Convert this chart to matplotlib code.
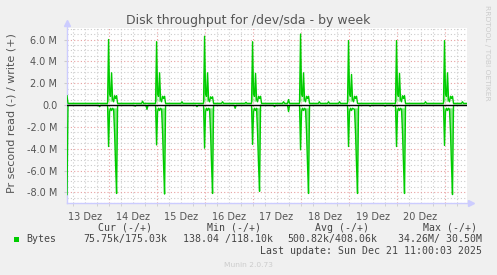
import numpy as np
import matplotlib
matplotlib.use('Agg')
import matplotlib.pyplot as plt
from matplotlib.patches import Rectangle

# hours counted from 13 Dez 00:00, values in MB/s
spike_hours = [24, 48, 72, 96, 120, 144, 168, 192]
write_peak = [6.0, 5.8, 6.3, 5.8, 6.5, 5.9, 5.9, 5.9]
write_second = [2.95, 2.95, 2.95, 2.9, 2.95, 2.8, 2.9, 2.95]
write_bump = [0.85, 0.8, 0.75, 0.8, 0.8, 0.8, 0.85, 0.8]
read_spike = [-3.8, -3.65, -3.95, -3.6, -4.1, -3.8, -3.8, -3.7]
read_dip = [-8.1, -8.15, -8.1, -7.9, -8.1, -8.1, -8.1, -8.2]
dip_offset = [4.0, 4.0, 4.0, 3.5, 4.0, 4.5, 4.0, 4.0]

write_blip_hours = [41, 60.7, 81, 92.7, 111.5, 114, 129.4, 134, 139.5, 182.5, 201]
write_blip_vals = [0.35, 0.3, 0.3, 0.25, 0.3, 0.5, 0.3, 0.3, 0.3, 0.3, 0.3]
read_blip_hours = [19.5, 37.3, 43.2, 68.2, 87.3, 107, 114, 154.8, 162.3, 166.5]
read_blip_vals = [-0.15, -0.1, -0.4, -0.15, -0.3, -0.15, -0.6, -0.1, -0.1, -0.1]

write_base = 0.15
read_base = -0.03
start_hour, end_hour = 3.2, 203.0
start_write, start_read = 0.85, -8.2

day_labels = ['13 Dez', '14 Dez', '15 Dez', '16 Dez', '17 Dez', '18 Dez', '19 Dez', '20 Dez']
label_hours = [12, 36, 60, 84, 108, 132, 156, 180]

legend_header = ['Cur (-/+)', 'Min (-/+)', 'Avg (-/+)', 'Max (-/+)']
legend_values = ['75.75k/175.03k', '138.04 /118.10k', '500.82k/408.06k', '34.26M/ 30.50M']
last_update = 'Last update: Sun Dec 21 11:00:03 2025'

GREEN = '#00cc00'
LIGHT = '#86e886'


def build(base, start_val, shapes, blip_h, blip_v):
    pts = [(start_hour, start_val), (start_hour + 0.5, base)]
    for shape in shapes:
        pts += shape
    for h, v in zip(blip_h, blip_v):
        pts += [(h - 0.5, base), (h, v), (h + 0.5, base)]
    pts.append((end_hour, base))
    pts.sort()
    t = np.array([p[0] for p in pts])
    v = np.array([p[1] for p in pts]) * 1e6
    return t, v


write_shapes = []
read_shapes = []
for d, pk, sc, bp, rs, rd, off in zip(spike_hours, write_peak, write_second, write_bump,
                                      read_spike, read_dip, dip_offset):
    write_shapes.append([(d - 0.5, write_base), (d, pk), (d + 0.5, 1.0), (d + 1.0, 0.8),
                         (d + 1.5, sc), (d + 2.0, 0.5), (d + 2.5, 0.3), (d + 3.0, bp),
                         (d + 3.5, 0.6), (d + 4.0, bp), (d + 4.5, write_base)])
    read_shapes.append([(d - 0.5, read_base), (d, rs), (d + 0.5, -0.6), (d + 1.0, -0.3),
                        (d + 1.5, -0.5), (d + 2.0, -0.3), (d + off - 1.5, -0.4),
                        (d + off - 1.0, -2.5), (d + off - 0.5, -5.5), (d + off, rd),
                        (d + off + 0.5, read_base)])

tw, vw = build(write_base, start_write, write_shapes, write_blip_hours, write_blip_vals)
tr, vr = build(read_base, start_read, read_shapes, read_blip_hours, read_blip_vals)

W, H = 497, 275
L, R, T, B = 67, 466.5, 27.5, 203.3
fig = plt.figure(figsize=(W / 100, H / 100), dpi=100, facecolor='#f0f0f0')
ax = fig.add_axes([L / W, 1 - B / H, (R - L) / W, (B - T) / H])
ax.set_facecolor('white')
ax.set_xlim(start_hour, end_hour)
ax.set_ylim(-9.0e6, 7.1e6)

# grid
dot = (0, (1, 2))
for h in np.arange(6, end_hour, 6):
    c = '#e8a0a0' if h % 24 == 0 else '#cccccc'
    ax.axvline(h, color=c, lw=0.8, ls=dot, zorder=1)
for y in np.arange(-9.0, 7.1, 0.5):
    if y == 0:
        continue
    c = '#e8a0a0' if y % 2 == 0 else '#cccccc'
    ax.axhline(y * 1e6, color=c, lw=0.8, ls=dot, zorder=1)

ax.fill_between(tw, 0.3e6, vw, where=vw > 1.5e6, interpolate=True, color=LIGHT, lw=0, zorder=2)
ax.fill_between(tr, -0.3e6, vr, where=vr < -1.5e6, interpolate=True, color=LIGHT, lw=0, zorder=2)
ax.plot(tw, vw, color=GREEN, lw=1.0, zorder=3)
ax.plot(tr, vr, color=GREEN, lw=1.0, zorder=3)
ax.axhline(0, color='black', lw=1.0, zorder=4)

# axes
for s in ['top', 'right']:
    ax.spines[s].set_visible(False)
for s in ['left', 'bottom']:
    ax.spines[s].set_color('#ccccff')
    ax.spines[s].set_linewidth(1.0)
ax.plot([0], [1.025], marker='^', ms=4, color='#ccccff', transform=ax.transAxes, clip_on=False)
ax.plot([1.011], [0], marker='>', ms=4, color='#ccccff', transform=ax.transAxes, clip_on=False)

yt = np.arange(-8, 7, 2)
ax.set_yticks(yt * 1e6)
ax.set_yticklabels(['0.0' if v == 0 else f'{v:.1f} M' for v in yt])
ax.set_xticks(label_hours)
ax.set_xticklabels(day_labels)
ax.set_xticks(np.arange(6, end_hour, 6), minor=True)
ax.tick_params(axis='x', which='major', length=0, pad=6, labelsize=7, colors='#555555')
ax.tick_params(axis='x', which='minor', length=2, color='#cccccc')
ax.tick_params(axis='y', length=2, color='#cccccc', pad=5, labelsize=7, labelcolor='#555555')


def ft(x, y, s, **kw):
    fig.text(x / W, 1 - y / H, s, **kw)


ft(248.5, 24, 'Disk throughput for /dev/sda - by week', ha='center', va='baseline',
   fontsize=9, color='#555555')
ft(11.5, 113.5, 'Pr second read (-) / write (+)', ha='center', va='center', rotation=90,
   fontsize=8, color='#555555')
ft(487, 53, 'RRDTOOL / TOBI OETIKER', ha='center', va='center', rotation=270,
   fontsize=5.4, color='#cccccc')

mono = dict(family='DejaVu Sans Mono', fontsize=7.1, color='#444444', va='baseline')
header_x = [98.3, 206.7, 315, 422.7]
value_x = [83.3, 182.7, 287.7, 398.3]
for x, s in zip(header_x, legend_header):
    ft(x, 230.7, s, ha='left', **mono)
for x, s in zip(value_x, legend_values):
    ft(x, 242.3, s, ha='left', **mono)
ft(26.7, 242.3, 'Bytes', ha='left', **mono)
fig.patches.append(Rectangle((14 / W, 1 - 242 / H), 5.3 / W, 5.3 / H, transform=fig.transFigure,
                             facecolor=GREEN, edgecolor='none'))
ft(482.5, 254.3, last_update, ha='right', **mono)
ft(248, 266.7, 'Munin 2.0.73', ha='center', va='baseline', fontsize=5.4, color='#cccccc')

fig.savefig('out.png', dpi=100, facecolor=fig.get_facecolor())
